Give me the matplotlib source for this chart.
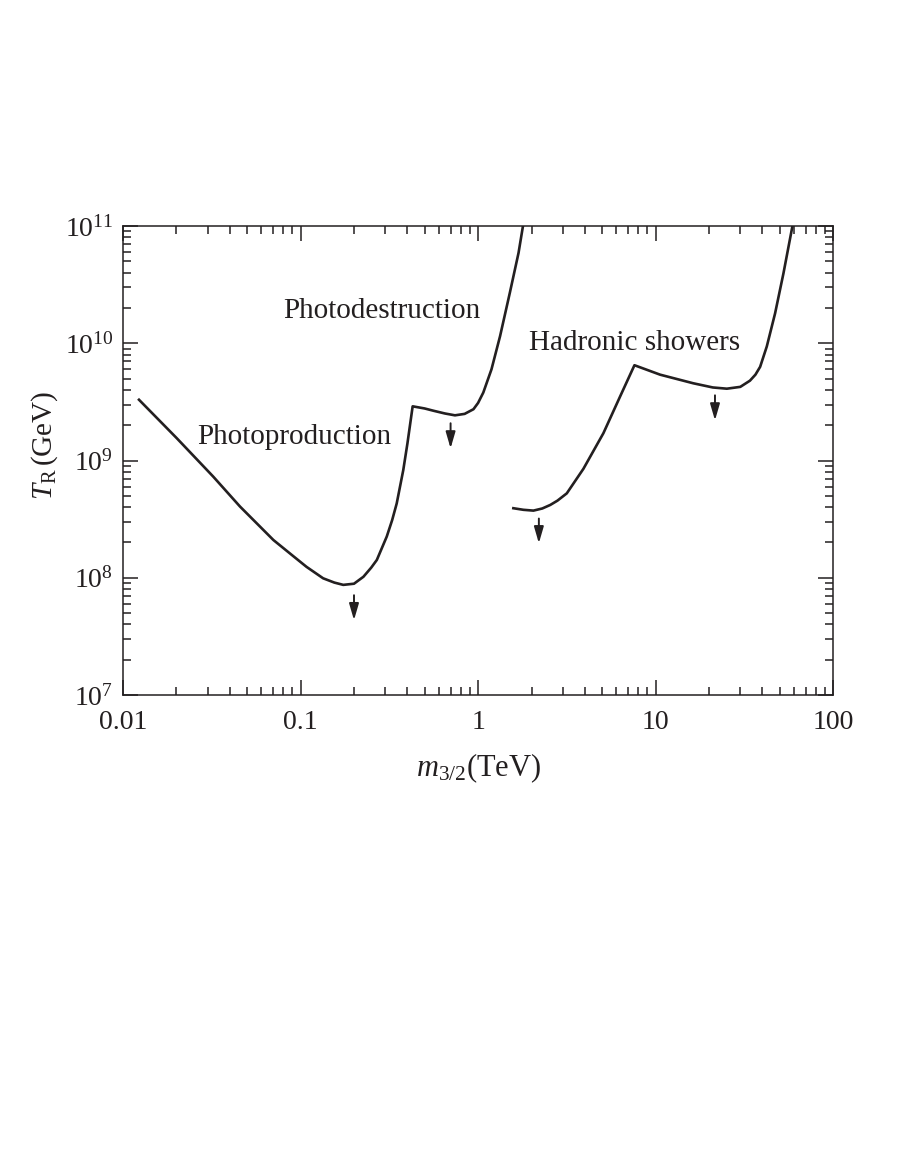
import numpy as np
import matplotlib
matplotlib.use("Agg")
from matplotlib import pyplot as plt
from matplotlib.ticker import FixedLocator, FixedFormatter, LogLocator, NullFormatter

plt.rcParams['font.family'] = ['Liberation Serif', 'DejaVu Serif']
plt.rcParams['mathtext.fontset'] = 'custom'
plt.rcParams['mathtext.rm'] = 'Liberation Serif'
plt.rcParams['mathtext.it'] = 'Liberation Serif:italic'
plt.rcParams['mathtext.bf'] = 'Liberation Serif:bold'

INK = '#231f20'

# photoproduction + photodestruction bound (one line, kink near 0.43 TeV)
photo_m = [0.0123, 0.02, 0.0322, 0.0456, 0.0703, 0.09, 0.108, 0.134, 0.155, 0.174,
           0.2, 0.226, 0.25, 0.269, 0.306, 0.328, 0.348, 0.379, 0.40, 0.428,
           0.5, 0.56, 0.65, 0.741, 0.84, 0.942, 1.0, 1.07, 1.19, 1.33, 1.51, 1.69, 1.79]
photo_T = [3.3e9, 1.56e9, 7.3e8, 4.05e8, 2.1e8, 1.55e8, 1.24e8, 9.9e7, 9.1e7, 8.7e7,
           8.9e7, 1.02e8, 1.22e8, 1.42e8, 2.25e8, 3.1e8, 4.3e8, 8.3e8, 1.4e9, 2.9e9,
           2.78e9, 2.66e9, 2.52e9, 2.43e9, 2.5e9, 2.74e9, 3.1e9, 3.8e9, 6.0e9, 1.15e10,
           2.7e10, 5.9e10, 1e11]

# hadronic showers bound
had_m = [1.58, 1.8, 2.05, 2.3, 2.55, 2.8, 3.16, 3.92, 5.08, 6.3, 7.6, 10.6, 16.3,
         21.0, 25.2, 30.0, 34.0, 36.5, 38.8, 42.3, 47.1, 52.5, 59.0]
had_T = [3.92e8, 3.8e8, 3.74e8, 3.9e8, 4.18e8, 4.55e8, 5.25e8, 8.5e8, 1.71e9, 3.5e9,
         6.5e9, 5.4e9, 4.56e9, 4.2e9, 4.1e9, 4.25e9, 4.8e9, 5.4e9, 6.3e9, 9.4e9,
         1.8e10, 3.95e10, 1e11]

# downward arrows (x, top, bottom)
arrow_m = [0.2, 0.7, 2.2, 21.6]
arrow_top = [7.1e7, 2.08e9, 3.2e8, 3.6e9]
arrow_bot = [4.35e7, 1.27e9, 1.97e8, 2.2e9]

labels = ["Photodestruction", "Photoproduction", "Hadronic showers"]
label_m = [0.288, 0.0918, 7.57]
label_T = [1.9e10, 1.6e9, 1.0e10]

xticks = [0.01, 0.1, 1, 10, 100]
xticklabels = ["0.01", "0.1", "1", "10", "100"]

fig = plt.figure(figsize=(9, 11.64), dpi=100)
ax = fig.add_axes([0.1367, 0.4029, 0.789, 0.4029])

ax.plot(photo_m, photo_T, color=INK, lw=1.9, solid_joinstyle='round')
ax.plot(had_m, had_T, color=INK, lw=1.9, solid_joinstyle='round')

for m, t0, t1 in zip(arrow_m, arrow_top, arrow_bot):
    ax.annotate('', xy=(m, t1), xytext=(m, t0),
                arrowprops=dict(arrowstyle='-|>,head_length=0.55,head_width=0.16',
                                color=INK, lw=1.4, mutation_scale=18,
                                shrinkA=0, shrinkB=0))

for s, m, t in zip(labels, label_m, label_T):
    ax.text(m, t, s, fontsize=21, ha='center', va='center', color=INK)

ax.set_xscale('log')
ax.set_yscale('log')
ax.set_xlim(0.01, 100)
ax.set_ylim(1e7, 1e11)

ax.xaxis.set_major_locator(FixedLocator(xticks))
ax.xaxis.set_major_formatter(FixedFormatter(xticklabels))
ax.xaxis.set_minor_locator(LogLocator(base=10, subs=np.arange(2, 10), numticks=20))
ax.xaxis.set_minor_formatter(NullFormatter())
ax.yaxis.set_major_locator(LogLocator(base=10, numticks=10))
ax.yaxis.set_minor_locator(LogLocator(base=10, subs=np.arange(2, 10), numticks=20))
ax.yaxis.set_minor_formatter(NullFormatter())

ax.tick_params(which='both', direction='in', top=True, right=True, colors=INK,
               labelsize=20, width=1.1)
ax.tick_params(which='major', length=11, pad=7)
ax.tick_params(axis='x', which='major', pad=11)
ax.tick_params(which='minor', length=5.5)
for sp in ax.spines.values():
    sp.set_linewidth(1.1)
    sp.set_color(INK)

ax.text(0.5, -0.156, r"$m_{3/2}$(TeV)", transform=ax.transAxes,
        fontsize=22, ha='center', va='center', color=INK)
ax.text(-0.111, 0.533, r"$T_{\rm R}\,$(GeV)", transform=ax.transAxes,
        fontsize=21, ha='center', va='center', rotation=90, color=INK)

fig.savefig("out.png", dpi=100)
